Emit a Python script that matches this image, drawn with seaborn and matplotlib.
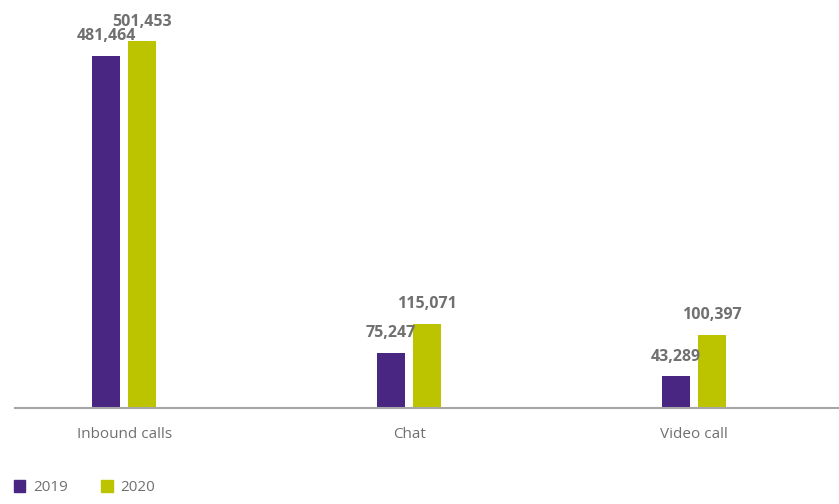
import pandas
import seaborn
import matplotlib
matplotlib.use("Agg")
import matplotlib.pyplot as plt

# data
categories = ["Inbound calls", "Chat", "Video call"]
years = ["2019", "2020"]
values_2019 = [481464, 75247, 43289]
values_2020 = [501453, 115071, 100397]

palette = {"2019": "#4a2683", "2020": "#bcc400"}
text_gray = "#707070"

df = pandas.DataFrame({
    "channel": categories * 2,
    "year": [years[0]] * len(categories) + [years[1]] * len(categories),
    "count": values_2019 + values_2020,
})

seaborn.set_theme(style="white")
plt.rcParams["font.family"] = ["Open Sans", "DejaVu Sans"]

fig = plt.figure(figsize=(8.39, 5.04), dpi=100)
ax = fig.add_axes([15 / 839, 96 / 504, 824 / 839, 408 / 504])

seaborn.barplot(
    data=df,
    x="channel",
    y="count",
    hue="year",
    order=categories,
    hue_order=years,
    palette=palette,
    width=0.253,
    gap=0.22,
    saturation=1,
    linewidth=0,
    legend=False,
    ax=ax,
)

# value labels above each bar
for container in ax.containers:
    ax.bar_label(
        container,
        labels=[f"{v:,.0f}" for v in container.datavalues],
        padding=8.5,
        fontsize=11.5,
        fontweight="bold",
        color=text_gray,
    )

ax.set_xlim(-0.384, 2.509)
ax.set_ylim(0, 558000)
ax.set_xlabel("")
ax.set_ylabel("")
ax.set_yticks([])
ax.tick_params(axis="x", length=0, pad=14, labelsize=11, labelcolor=text_gray)
for side in ["top", "left", "right"]:
    ax.spines[side].set_visible(False)
ax.spines["bottom"].set_color("#a6a6a6")
ax.spines["bottom"].set_linewidth(1.5)

handles = [plt.Rectangle((0, 0), 1, 1, color=palette[y]) for y in years]
fig.legend(
    handles,
    years,
    loc="lower left",
    bbox_to_anchor=(0.0, -0.01),
    ncol=2,
    frameon=False,
    fontsize=11,
    labelcolor=text_gray,
    handlelength=0.75,
    handleheight=0.75,
    handletextpad=0.5,
    columnspacing=2.2,
)

fig.savefig("out.png", dpi=100)
